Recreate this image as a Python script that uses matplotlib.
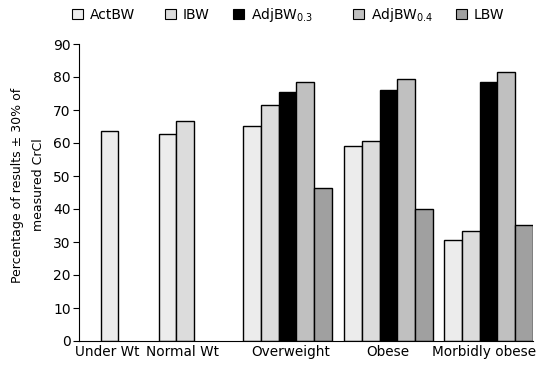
import matplotlib.pyplot as plt
import numpy as np

categories = ["Under Wt", "Normal Wt", "Overweight", "Obese", "Morbidly obese"]
series = ["ActBW", "IBW", "AdjBW0.3", "AdjBW0.4", "LBW"]
# nan = bar not shown for that group
actbw = [63.7, 62.6, 65.0, 59.0, 30.5]
ibw = [np.nan, 66.6, 71.4, 60.5, 33.2]
adjbw03 = [np.nan, np.nan, 75.5, 76.1, 78.5]
adjbw04 = [np.nan, np.nan, 78.4, 79.3, 81.4]
lbw = [np.nan, np.nan, 46.3, 39.9, 35.3]

labels = ["ActBW", "IBW", r"AdjBW$_{\mathregular{0.3}}$", r"AdjBW$_{\mathregular{0.4}}$", "LBW"]
colors = ["#ececec", "#dcdcdc", "#000000", "#c0c0c0", "#a0a0a0"]

# layout (group centres, label positions, bar width)
group_x = [1.095, 1.765, 2.875, 3.885, 4.885]
label_x = [1.07, 1.82, 2.91, 3.88, 4.84]
w = 0.178

values = np.array([actbw, ibw, adjbw03, adjbw04, lbw])

fig = plt.figure(figsize=(5.5, 3.71), dpi=100)
ax = fig.add_axes([79 / 550, 30 / 371, 454 / 550, 297 / 371])

for g, cx in enumerate(group_x):
    present = [s for s in range(len(series)) if not np.isnan(values[s, g])]
    n = len(present)
    for k, s in enumerate(present):
        x = cx + (k - (n - 1) / 2) * w
        ax.bar(x, values[s, g], width=w, color=colors[s], edgecolor="black", linewidth=1)

ax.set_xlim(0.79, 5.33)
ax.set_ylim(0, 90)
ax.set_yticks(range(0, 91, 10))
ax.tick_params(axis="y", direction="out", length=4, labelsize=10, pad=2)
ax.set_xticks(label_x)
ax.set_xticklabels(categories, fontsize=9.8)
ax.tick_params(axis="x", length=0, pad=3)
for side in ["top", "right"]:
    ax.spines[side].set_visible(False)

fig.text(28 / 550, 1 - 185 / 371, "Percentage of results ± 30% of\nmeasured CrCl",
         rotation=90, ha="center", va="center", fontsize=9, linespacing=1.7,
         multialignment="center")

# legend entries placed individually along the top
leg_x = [72, 165, 233, 353, 456]
for i in range(len(series)):
    h = plt.Rectangle((0, 0), 1, 1, facecolor=colors[i], edgecolor="black", linewidth=0.8)
    fig.legend([h], [labels[i]], loc="center left",
               bbox_to_anchor=(leg_x[i] / 550, 1 - 15 / 371), frameon=False,
               fontsize=10, handlelength=0.8, handleheight=0.8,
               handletextpad=0.5, borderpad=0, borderaxespad=0)

fig.savefig("out.png", dpi=100)
